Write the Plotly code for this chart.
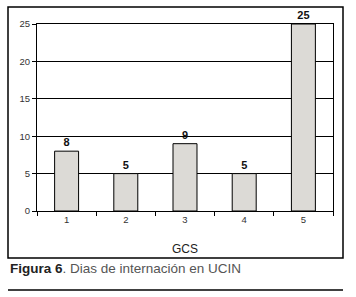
import plotly.graph_objects as go

categories = ["1", "2", "3", "4", "5"]
values = [8, 5, 9, 5, 25]
y_ticks = [0, 5, 10, 15, 20, 25]

W, H = 356, 297
L, R, T, B = 37, 333, 24, 211  # plot area in pixels


def px(x):
    return (x - L) / (R - L)


def py(y):
    return (B - y) / (B - T)


fig = go.Figure(go.Bar(
    x=categories, y=values,
    width=0.405,
    marker=dict(color="#dcdad6", line=dict(color="black", width=1)),
    text=[str(v) for v in values],
    textposition="outside",
    textfont=dict(family="Liberation Sans, Arial", size=11, color="#111"),
    texttemplate="<b>%{text}</b>",
    cliponaxis=False,
))

fig.update_layout(
    width=W, height=H,
    margin=dict(l=L, r=W - R, t=T, b=H - B),
    paper_bgcolor="white", plot_bgcolor="white",
    showlegend=False,
    font=dict(family="Liberation Sans, Arial", color="#333"),
    bargap=0.2,
)
fig.update_yaxes(
    range=[0, 25], tickvals=y_ticks, showgrid=True, gridcolor="black", gridwidth=1,
    showline=True, linecolor="black", linewidth=1, mirror=True,
    ticks="outside", ticklen=4, tickcolor="black",
    tickfont=dict(size=9.5, color="#333"), zeroline=False,
)
fig.update_xaxes(
    showline=True, linecolor="black", linewidth=1, mirror=True,
    ticks="outside", ticklen=4, tickcolor="black", tickson="boundaries",
    tickfont=dict(size=9.5, color="#333"), showgrid=False,
)

# outer frame
fig.add_shape(type="rect", xref="paper", yref="paper",
              x0=px(8), x1=px(343), y0=py(258), y1=py(7),
              line=dict(color="black", width=1.5), layer="below")
# bottom rule
fig.add_shape(type="line", xref="paper", yref="paper",
              x0=px(8), x1=px(343), y0=py(290), y1=py(290),
              line=dict(color="black", width=1.5))

fig.add_annotation(text="GCS", xref="paper", yref="paper", x=px(185), y=py(249),
                   showarrow=False, font=dict(size=12, color="#222"),
                   xanchor="center", yanchor="middle")
fig.add_annotation(
    text="<b><span style='color:#222'>Figura 6</span></b><span style='color:#555'>. Dias de internación en UCIN</span>",
    xref="paper", yref="paper", x=px(8), y=py(268), showarrow=False,
    font=dict(size=13.5), xanchor="left", yanchor="middle")

fig.write_html("out.html")
